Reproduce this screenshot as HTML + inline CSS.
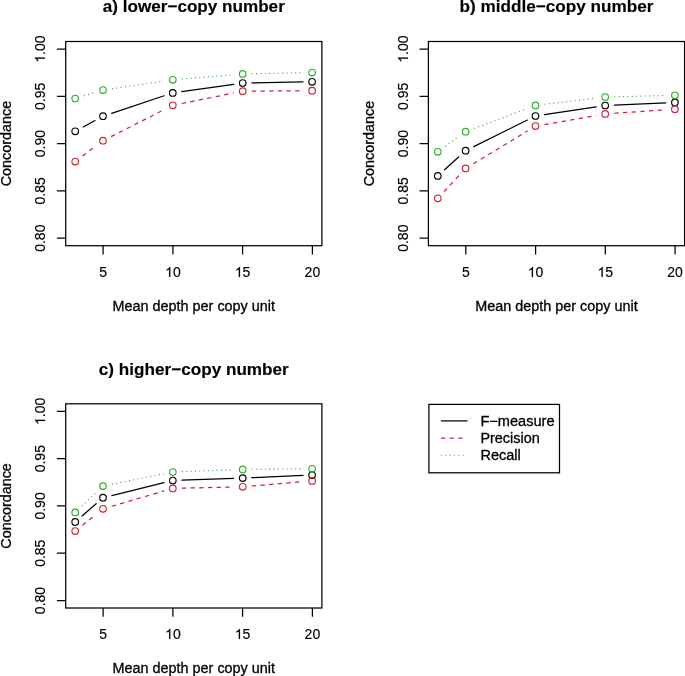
<!DOCTYPE html>
<html><head><meta charset="utf-8"><style>
html,body{margin:0;padding:0;background:#fff;}
body{width:685px;height:676px;overflow:hidden;}
svg{display:block;will-change:transform;}
text{font-family:"Liberation Sans",sans-serif;font-size:14.0px;fill:#000;stroke:#000;stroke-width:0.3px;}
text.t{font-weight:bold;font-size:16.8px;stroke-width:0.15px;}
text.d{stroke-width:0.15px;}
.h{fill:none;stroke:none;}
</style></head><body>
<svg width="685" height="676" viewBox="0 0 685 676">
<rect width="685" height="676" fill="#fff"/>
<g>
<rect x="65.7" y="41.5" width="256.2" height="204.2" fill="none" stroke="#000" stroke-width="1.25"/>
<path d="M65.7 49.1H56.9M65.7 96.38H56.9M65.7 143.65H56.9M65.7 190.92H56.9M65.7 238.2H56.9M103.1 245.7V254.5M172.9 245.7V254.5M242.6 245.7V254.5M312.4 245.7V254.5" stroke="#000" stroke-width="1.25" fill="none"/>
<text x="45" y="49.1" transform="rotate(-90 45 49.1)" text-anchor="middle" class="d"><tspan class="h">1</tspan>.00</text>
<text x="45" y="96.38" transform="rotate(-90 45 96.38)" text-anchor="middle" class="d">0.95</text>
<text x="45" y="143.65" transform="rotate(-90 45 143.65)" text-anchor="middle" class="d">0.90</text>
<text x="45" y="190.92" transform="rotate(-90 45 190.92)" text-anchor="middle" class="d">0.85</text>
<text x="45" y="238.2" transform="rotate(-90 45 238.2)" text-anchor="middle" class="d">0.80</text>
<text x="103.1" y="277" text-anchor="middle" class="d">5</text>
<text x="172.9" y="277" text-anchor="middle" class="d"><tspan class="h">1</tspan>0</text>
<text x="242.6" y="277" text-anchor="middle" class="d"><tspan class="h">1</tspan>5</text>
<text x="312.4" y="277" text-anchor="middle" class="d">20</text>
<text x="193.8" y="311" text-anchor="middle" textLength="162.4" lengthAdjust="spacingAndGlyphs">Mean depth per copy unit</text>
<text x="10.8" y="143.6" transform="rotate(-90 10.8 143.6)" text-anchor="middle" textLength="85.5" lengthAdjust="spacingAndGlyphs">Concordance</text>
<text x="193.8" y="12.4" text-anchor="middle" class="t" textLength="182.0" lengthAdjust="spacingAndGlyphs">a) lower−copy number</text>
<path d="M83.2 126.96L95 120.54M111.63 113.32L164.17 95.78M181.81 91.62L233.69 84.28M251.8 82.84L303 81.96" fill="none" stroke="#000" stroke-width="1.25" stroke-linecap="round"/>
<circle cx="75.2" cy="131.3" r="3.3" fill="none" stroke="#000" stroke-width="1.15"/>
<circle cx="103" cy="116.2" r="3.3" fill="none" stroke="#000" stroke-width="1.15"/>
<circle cx="172.8" cy="92.9" r="3.3" fill="none" stroke="#000" stroke-width="1.15"/>
<circle cx="242.7" cy="83" r="3.3" fill="none" stroke="#000" stroke-width="1.15"/>
<circle cx="312.1" cy="81.8" r="3.3" fill="none" stroke="#000" stroke-width="1.15"/>
<path d="M82.49 156.05L95.71 146.15M111.12 136.58L164.68 109.42M181.72 103.5L233.78 93M251.8 91.13L303 90.77" fill="none" stroke="#c82636" stroke-width="1.25" stroke-linecap="butt" stroke-dasharray="4.34 4.34"/>
<circle cx="75.2" cy="161.5" r="3.3" fill="none" stroke="#c82636" stroke-width="1.15"/>
<circle cx="103" cy="140.7" r="3.3" fill="none" stroke="#c82636" stroke-width="1.15"/>
<circle cx="172.8" cy="105.3" r="3.3" fill="none" stroke="#c82636" stroke-width="1.15"/>
<circle cx="242.7" cy="91.2" r="3.3" fill="none" stroke="#c82636" stroke-width="1.15"/>
<circle cx="312.1" cy="90.7" r="3.3" fill="none" stroke="#c82636" stroke-width="1.15"/>
<path d="M83.91 95.87L94.29 92.73M112 88.77L163.8 81.13M181.87 79.03L233.63 74.67M251.8 73.73L303 72.77" fill="none" stroke="#3ca43c" stroke-width="1.1" stroke-linecap="butt" stroke-dasharray="1.085 3.255"/>
<circle cx="75.2" cy="98.5" r="3.3" fill="none" stroke="#2eae2e" stroke-width="1.15"/>
<circle cx="103" cy="90.1" r="3.3" fill="none" stroke="#2eae2e" stroke-width="1.15"/>
<circle cx="172.8" cy="79.8" r="3.3" fill="none" stroke="#2eae2e" stroke-width="1.15"/>
<circle cx="242.7" cy="73.9" r="3.3" fill="none" stroke="#2eae2e" stroke-width="1.15"/>
<circle cx="312.1" cy="72.6" r="3.3" fill="none" stroke="#2eae2e" stroke-width="1.15"/>
</g>
<g>
<rect x="428.4" y="41.5" width="256.2" height="204.2" fill="none" stroke="#000" stroke-width="1.25"/>
<path d="M428.4 49.1H419.6M428.4 96.38H419.6M428.4 143.65H419.6M428.4 190.92H419.6M428.4 238.2H419.6M465.8 245.7V254.5M535.6 245.7V254.5M605.3 245.7V254.5M675.1 245.7V254.5" stroke="#000" stroke-width="1.25" fill="none"/>
<text x="408" y="49.1" transform="rotate(-90 408 49.1)" text-anchor="middle" class="d"><tspan class="h">1</tspan>.00</text>
<text x="408" y="96.38" transform="rotate(-90 408 96.38)" text-anchor="middle" class="d">0.95</text>
<text x="408" y="143.65" transform="rotate(-90 408 143.65)" text-anchor="middle" class="d">0.90</text>
<text x="408" y="190.92" transform="rotate(-90 408 190.92)" text-anchor="middle" class="d">0.85</text>
<text x="408" y="238.2" transform="rotate(-90 408 238.2)" text-anchor="middle" class="d">0.80</text>
<text x="465.8" y="277" text-anchor="middle" class="d">5</text>
<text x="535.6" y="277" text-anchor="middle" class="d"><tspan class="h">1</tspan>0</text>
<text x="605.3" y="277" text-anchor="middle" class="d"><tspan class="h">1</tspan>5</text>
<text x="675.1" y="277" text-anchor="middle" class="d">20</text>
<text x="556.5" y="311" text-anchor="middle" textLength="162.4" lengthAdjust="spacingAndGlyphs">Mean depth per copy unit</text>
<text x="374.2" y="143.6" transform="rotate(-90 374.2 143.6)" text-anchor="middle" textLength="85.5" lengthAdjust="spacingAndGlyphs">Concordance</text>
<text x="556.5" y="12.4" text-anchor="middle" class="t" textLength="194.05" lengthAdjust="spacingAndGlyphs">b) middle−copy number</text>
<path d="M444.54 169.79L458.86 156.81M473.75 146.65L527.35 120.05M544.5 114.64L596.2 106.86M614.29 105.1L665.81 102.8" fill="none" stroke="#000" stroke-width="1.25" stroke-linecap="round"/>
<circle cx="437.8" cy="175.9" r="3.3" fill="none" stroke="#000" stroke-width="1.15"/>
<circle cx="465.6" cy="150.7" r="3.3" fill="none" stroke="#000" stroke-width="1.15"/>
<circle cx="535.5" cy="116" r="3.3" fill="none" stroke="#000" stroke-width="1.15"/>
<circle cx="605.2" cy="105.5" r="3.3" fill="none" stroke="#000" stroke-width="1.15"/>
<circle cx="674.9" cy="102.4" r="3.3" fill="none" stroke="#000" stroke-width="1.15"/>
<path d="M444 191.64L459.4 175.06M473.39 163.69L527.71 130.81M544.46 124.53L596.24 115.47M614.28 113.29L665.82 109.81" fill="none" stroke="#c82636" stroke-width="1.25" stroke-linecap="butt" stroke-dasharray="4.34 4.34"/>
<circle cx="437.8" cy="198.3" r="3.3" fill="none" stroke="#c82636" stroke-width="1.15"/>
<circle cx="465.6" cy="168.4" r="3.3" fill="none" stroke="#c82636" stroke-width="1.15"/>
<circle cx="535.5" cy="126.1" r="3.3" fill="none" stroke="#c82636" stroke-width="1.15"/>
<circle cx="605.2" cy="113.9" r="3.3" fill="none" stroke="#c82636" stroke-width="1.15"/>
<circle cx="674.9" cy="109.2" r="3.3" fill="none" stroke="#c82636" stroke-width="1.15"/>
<path d="M445.17 146.47L458.23 137.03M474.12 128.5L526.98 108.6M544.53 104.31L596.17 98.09M614.3 96.78L665.8 95.52" fill="none" stroke="#3ca43c" stroke-width="1.1" stroke-linecap="butt" stroke-dasharray="1.085 3.255"/>
<circle cx="437.8" cy="151.8" r="3.3" fill="none" stroke="#2eae2e" stroke-width="1.15"/>
<circle cx="465.6" cy="131.7" r="3.3" fill="none" stroke="#2eae2e" stroke-width="1.15"/>
<circle cx="535.5" cy="105.4" r="3.3" fill="none" stroke="#2eae2e" stroke-width="1.15"/>
<circle cx="605.2" cy="97" r="3.3" fill="none" stroke="#2eae2e" stroke-width="1.15"/>
<circle cx="674.9" cy="95.3" r="3.3" fill="none" stroke="#2eae2e" stroke-width="1.15"/>
</g>
<g>
<rect x="65.7" y="403.8" width="256.2" height="204.2" fill="none" stroke="#000" stroke-width="1.25"/>
<path d="M65.7 411.4H56.9M65.7 458.68H56.9M65.7 505.95H56.9M65.7 553.23H56.9M65.7 600.5H56.9M103.1 608V616.8M172.9 608V616.8M242.6 608V616.8M312.4 608V616.8" stroke="#000" stroke-width="1.25" fill="none"/>
<text x="45" y="411.4" transform="rotate(-90 45 411.4)" text-anchor="middle" class="d"><tspan class="h">1</tspan>.00</text>
<text x="45" y="458.68" transform="rotate(-90 45 458.68)" text-anchor="middle" class="d">0.95</text>
<text x="45" y="505.95" transform="rotate(-90 45 505.95)" text-anchor="middle" class="d">0.90</text>
<text x="45" y="553.23" transform="rotate(-90 45 553.23)" text-anchor="middle" class="d">0.85</text>
<text x="45" y="600.5" transform="rotate(-90 45 600.5)" text-anchor="middle" class="d">0.80</text>
<text x="103.1" y="639" text-anchor="middle" class="d">5</text>
<text x="172.9" y="639" text-anchor="middle" class="d"><tspan class="h">1</tspan>0</text>
<text x="242.6" y="639" text-anchor="middle" class="d"><tspan class="h">1</tspan>5</text>
<text x="312.4" y="639" text-anchor="middle" class="d">20</text>
<text x="193.8" y="673" text-anchor="middle" textLength="162.4" lengthAdjust="spacingAndGlyphs">Mean depth per copy unit</text>
<text x="10.8" y="505.9" transform="rotate(-90 10.8 505.9)" text-anchor="middle" textLength="85.5" lengthAdjust="spacingAndGlyphs">Concordance</text>
<text x="193.8" y="374.6" text-anchor="middle" class="t" textLength="189.9" lengthAdjust="spacingAndGlyphs">c) higher−copy number</text>
<path d="M82.06 515.93L96.14 503.67M111.84 495.52L163.96 482.68M181.89 480.19L233.61 478.41M251.79 477.69L303.01 475.41" fill="none" stroke="#000" stroke-width="1.25" stroke-linecap="round"/>
<circle cx="75.2" cy="521.9" r="3.3" fill="none" stroke="#000" stroke-width="1.15"/>
<circle cx="103" cy="497.7" r="3.3" fill="none" stroke="#000" stroke-width="1.15"/>
<circle cx="172.8" cy="480.5" r="3.3" fill="none" stroke="#000" stroke-width="1.15"/>
<circle cx="242.7" cy="478.1" r="3.3" fill="none" stroke="#000" stroke-width="1.15"/>
<circle cx="312.1" cy="475" r="3.3" fill="none" stroke="#000" stroke-width="1.15"/>
<path d="M82.31 525.32L95.89 514.48M111.73 506.25L164.07 490.95M181.9 488.19L233.6 487.01M251.77 486.03L303.03 481.67" fill="none" stroke="#c82636" stroke-width="1.25" stroke-linecap="butt" stroke-dasharray="4.34 4.34"/>
<circle cx="75.2" cy="531" r="3.3" fill="none" stroke="#c82636" stroke-width="1.15"/>
<circle cx="103" cy="508.8" r="3.3" fill="none" stroke="#c82636" stroke-width="1.15"/>
<circle cx="172.8" cy="488.4" r="3.3" fill="none" stroke="#c82636" stroke-width="1.15"/>
<circle cx="242.7" cy="486.8" r="3.3" fill="none" stroke="#c82636" stroke-width="1.15"/>
<circle cx="312.1" cy="480.9" r="3.3" fill="none" stroke="#c82636" stroke-width="1.15"/>
<path d="M81.81 506.15L96.39 492.35M111.92 484.3L163.88 473.8M181.89 471.66L233.61 469.74M251.8 469.32L303 468.88" fill="none" stroke="#3ca43c" stroke-width="1.1" stroke-linecap="butt" stroke-dasharray="1.085 3.255"/>
<circle cx="75.2" cy="512.4" r="3.3" fill="none" stroke="#2eae2e" stroke-width="1.15"/>
<circle cx="103" cy="486.1" r="3.3" fill="none" stroke="#2eae2e" stroke-width="1.15"/>
<circle cx="172.8" cy="472" r="3.3" fill="none" stroke="#2eae2e" stroke-width="1.15"/>
<circle cx="242.7" cy="469.4" r="3.3" fill="none" stroke="#2eae2e" stroke-width="1.15"/>
<circle cx="312.1" cy="468.8" r="3.3" fill="none" stroke="#2eae2e" stroke-width="1.15"/>
</g>
<path d="M763 0L583 0L583 1147Q518 1085 412 1023Q307 961 223 930L223 1104Q374 1175 487 1276Q600 1377 647 1472L763 1472Z" transform="rotate(-90 45 49.1) translate(31.37 49.1) scale(0.006836 -0.006836)" fill="#000" stroke="#000" stroke-width="0.15" vector-effect="non-scaling-stroke"/>
<path d="M763 0L583 0L583 1147Q518 1085 412 1023Q307 961 223 930L223 1104Q374 1175 487 1276Q600 1377 647 1472L763 1472Z" transform=" translate(165.1 277) scale(0.006836 -0.006836)" fill="#000" stroke="#000" stroke-width="0.15" vector-effect="non-scaling-stroke"/>
<path d="M763 0L583 0L583 1147Q518 1085 412 1023Q307 961 223 930L223 1104Q374 1175 487 1276Q600 1377 647 1472L763 1472Z" transform=" translate(234.8 277) scale(0.006836 -0.006836)" fill="#000" stroke="#000" stroke-width="0.15" vector-effect="non-scaling-stroke"/>
<path d="M763 0L583 0L583 1147Q518 1085 412 1023Q307 961 223 930L223 1104Q374 1175 487 1276Q600 1377 647 1472L763 1472Z" transform="rotate(-90 408 49.1) translate(394.37 49.1) scale(0.006836 -0.006836)" fill="#000" stroke="#000" stroke-width="0.15" vector-effect="non-scaling-stroke"/>
<path d="M763 0L583 0L583 1147Q518 1085 412 1023Q307 961 223 930L223 1104Q374 1175 487 1276Q600 1377 647 1472L763 1472Z" transform=" translate(527.8 277) scale(0.006836 -0.006836)" fill="#000" stroke="#000" stroke-width="0.15" vector-effect="non-scaling-stroke"/>
<path d="M763 0L583 0L583 1147Q518 1085 412 1023Q307 961 223 930L223 1104Q374 1175 487 1276Q600 1377 647 1472L763 1472Z" transform=" translate(597.5 277) scale(0.006836 -0.006836)" fill="#000" stroke="#000" stroke-width="0.15" vector-effect="non-scaling-stroke"/>
<path d="M763 0L583 0L583 1147Q518 1085 412 1023Q307 961 223 930L223 1104Q374 1175 487 1276Q600 1377 647 1472L763 1472Z" transform="rotate(-90 45 411.4) translate(31.37 411.4) scale(0.006836 -0.006836)" fill="#000" stroke="#000" stroke-width="0.15" vector-effect="non-scaling-stroke"/>
<path d="M763 0L583 0L583 1147Q518 1085 412 1023Q307 961 223 930L223 1104Q374 1175 487 1276Q600 1377 647 1472L763 1472Z" transform=" translate(165.1 639) scale(0.006836 -0.006836)" fill="#000" stroke="#000" stroke-width="0.15" vector-effect="non-scaling-stroke"/>
<path d="M763 0L583 0L583 1147Q518 1085 412 1023Q307 961 223 930L223 1104Q374 1175 487 1276Q600 1377 647 1472L763 1472Z" transform=" translate(234.8 639) scale(0.006836 -0.006836)" fill="#000" stroke="#000" stroke-width="0.15" vector-effect="non-scaling-stroke"/>
<rect x="428.9" y="404.4" width="130.6" height="68.4" fill="none" stroke="#000" stroke-width="1.25"/>
<path d="M440.9 420.9H467.5" stroke="#000" stroke-width="1.25"/>
<text x="480.4" y="425.7" textLength="74.2" lengthAdjust="spacingAndGlyphs">F−measure</text>
<path d="M440.9 438.2H462.9" stroke="#c82636" stroke-width="1.25" stroke-dasharray="4.34 4.34"/>
<text x="480.4" y="443" textLength="59.4" lengthAdjust="spacingAndGlyphs">Precision</text>
<path d="M440.9 455.3H465" stroke="#3ca43c" stroke-width="1.1" stroke-dasharray="1.085 3.255"/>
<text x="480.4" y="460.1" textLength="40.4" lengthAdjust="spacingAndGlyphs">Recall</text>
</svg>
</body></html>
